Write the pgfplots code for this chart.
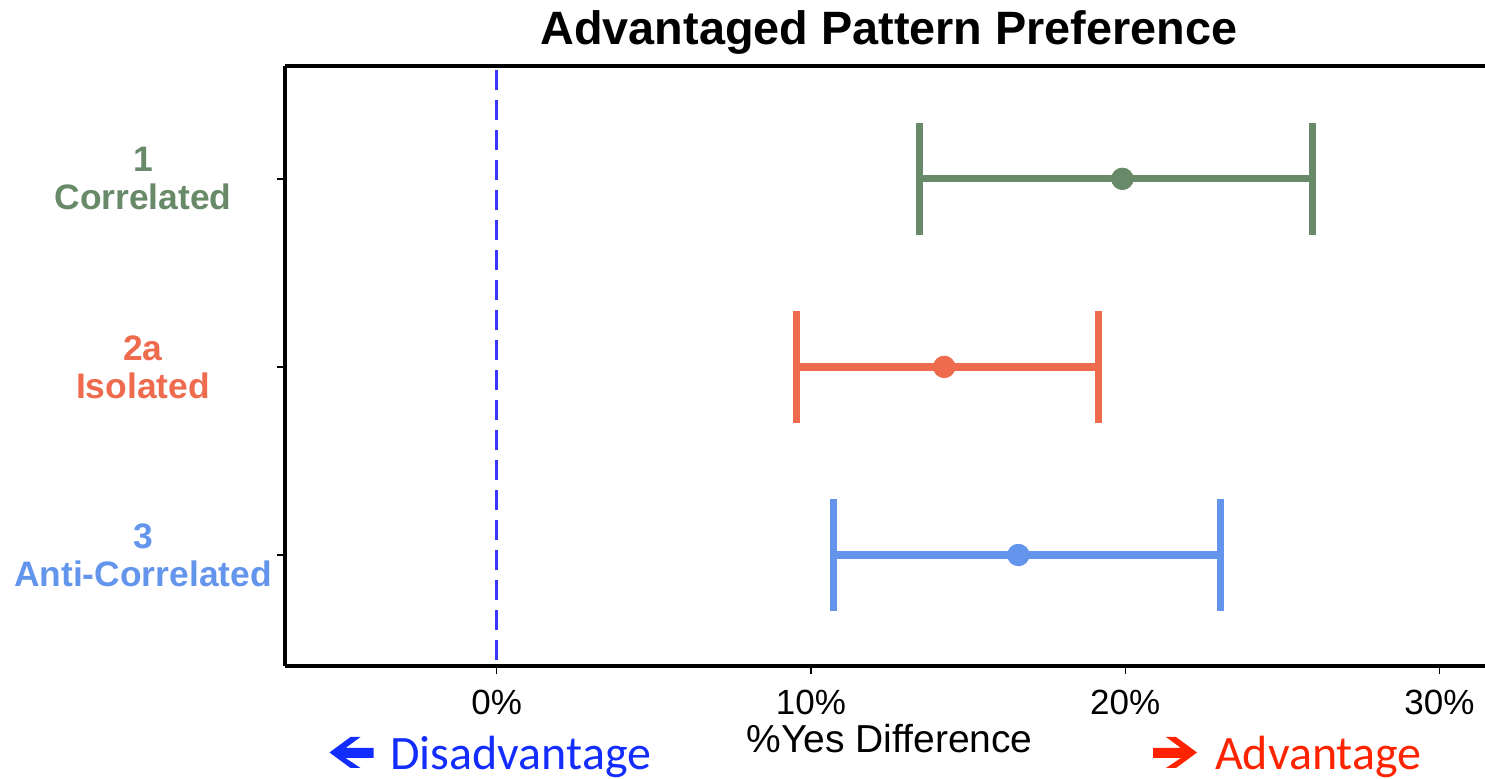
\documentclass[border=0pt]{standalone}
\usepackage{fontspec}
\setmainfont{Liberation Sans}
\newfontfamily\calibri{Carlito}
\usepackage{pgfplots}
\pgfplotsset{compat=1.18}
\definecolor{cgreen}{RGB}{104,138,104}
\definecolor{cred}{RGB}{238,107,78}
\definecolor{cblue}{RGB}{100,149,237}
\definecolor{dashblue}{RGB}{55,55,255}
\definecolor{annblue}{RGB}{20,45,255}
\definecolor{annred}{RGB}{255,35,0}
\begin{document}
\begin{tikzpicture}[x=1pt,y=1pt]
\path[use as bounding box] (0,0) rectangle (742.5,389.5);
\begin{axis}[
  at={(142.5pt,56.5pt)}, anchor=south west,
  scale only axis, width=600pt, height=300pt,
  xmin=-6.74, xmax=31.45, ymin=0.40, ymax=3.59, y dir=reverse,
  axis x line*=box, axis y line*=left,
  axis line style={line width=1.6pt, black},
  xtick={0,10,20,30}, xticklabels={0\%,10\%,20\%,30\%},
  ytick={1,2,3},
  yticklabels={
    {\textcolor{cgreen}{1}\\\textcolor{cgreen}{Correlated}},
    {\textcolor{cred}{2a}\\\textcolor{cred}{Isolated}},
    {\textcolor{cblue}{3}\\\textcolor{cblue}{Anti-Correlated}}},
  xtick pos=bottom, ytick pos=left,
  tick align=outside, major tick length=4pt,
  tick style={black, line width=0.7pt},
  xticklabel style={font=\fontsize{17.5}{20}\selectfont, anchor=base, inner sep=0pt, yshift=-20.3pt},
  yticklabel style={font=\fontsize{17.7}{19}\selectfont\bfseries, align=center, anchor=center, inner sep=0pt, xshift=-67pt},
  clip=false,
]
\addplot[dashblue, line width=1.5pt, dash pattern=on 10pt off 5pt, forget plot] coordinates {(0,0.42) (0,3.59)};
\addplot[color=cgreen, line width=3.6pt, mark=*, mark size=5.4pt, mark options={fill=cgreen, draw=cgreen, line width=0.4pt},
  error bars/.cd, x dir=both, x explicit,
  error bar style={line width=3.6pt, cgreen},
  error mark options={line width=3.6pt, mark size=28pt, cgreen, rotate=90}]
  coordinates {(19.91,1) += (6.06,0) -= (6.45,0)};
\addplot[color=cred, line width=3.6pt, mark=*, mark size=5.4pt, mark options={fill=cred, draw=cred, line width=0.4pt},
  error bars/.cd, x dir=both, x explicit,
  error bar style={line width=3.6pt, cred},
  error mark options={line width=3.6pt, mark size=28pt, cred, rotate=90}]
  coordinates {(14.24,2) += (4.91,0) -= (4.69,0)};
\addplot[color=cblue, line width=3.6pt, mark=*, mark size=5.4pt, mark options={fill=cblue, draw=cblue, line width=0.4pt},
  error bars/.cd, x dir=both, x explicit,
  error bar style={line width=3.6pt, cblue},
  error mark options={line width=3.6pt, mark size=28pt, cblue, rotate=90}]
  coordinates {(16.60,3) += (6.44,0) -= (5.89,0)};
\end{axis}
\node[anchor=base, inner sep=0pt, font=\fontsize{23.4}{26}\selectfont\bfseries] at (444.5,367) {Advantaged Pattern Preference};
\node[anchor=base, inner sep=0pt, font=\fontsize{19.5}{22}\selectfont] at (444.75,13) {\%Yes Difference};
% annotation arrows
\fill[annblue] (164.75,13.25) -- (175.25,21) -- (180.25,21) -- (172.75,15.5) -- (186.75,15.5) -- (186.75,10.5) -- (172.75,10.5) -- (180.25,5.5) -- (175.25,5.5) -- cycle;
\fill[annred] (598.5,13.25) -- (588,21) -- (583,21) -- (590.45,15.5) -- (576.5,15.5) -- (576.5,10.5) -- (590.45,10.5) -- (583,5.5) -- (588,5.5) -- cycle;
\node[anchor=base west, inner sep=0pt, font=\calibri\fontsize{24}{27}\selectfont, text=annblue] at (195,4.85) {Disadvantage};
\node[anchor=base west, inner sep=0pt, font=\calibri\fontsize{24}{27}\selectfont, text=annred] at (607.3,4.85) {Advantage};
\end{tikzpicture}
\end{document}
